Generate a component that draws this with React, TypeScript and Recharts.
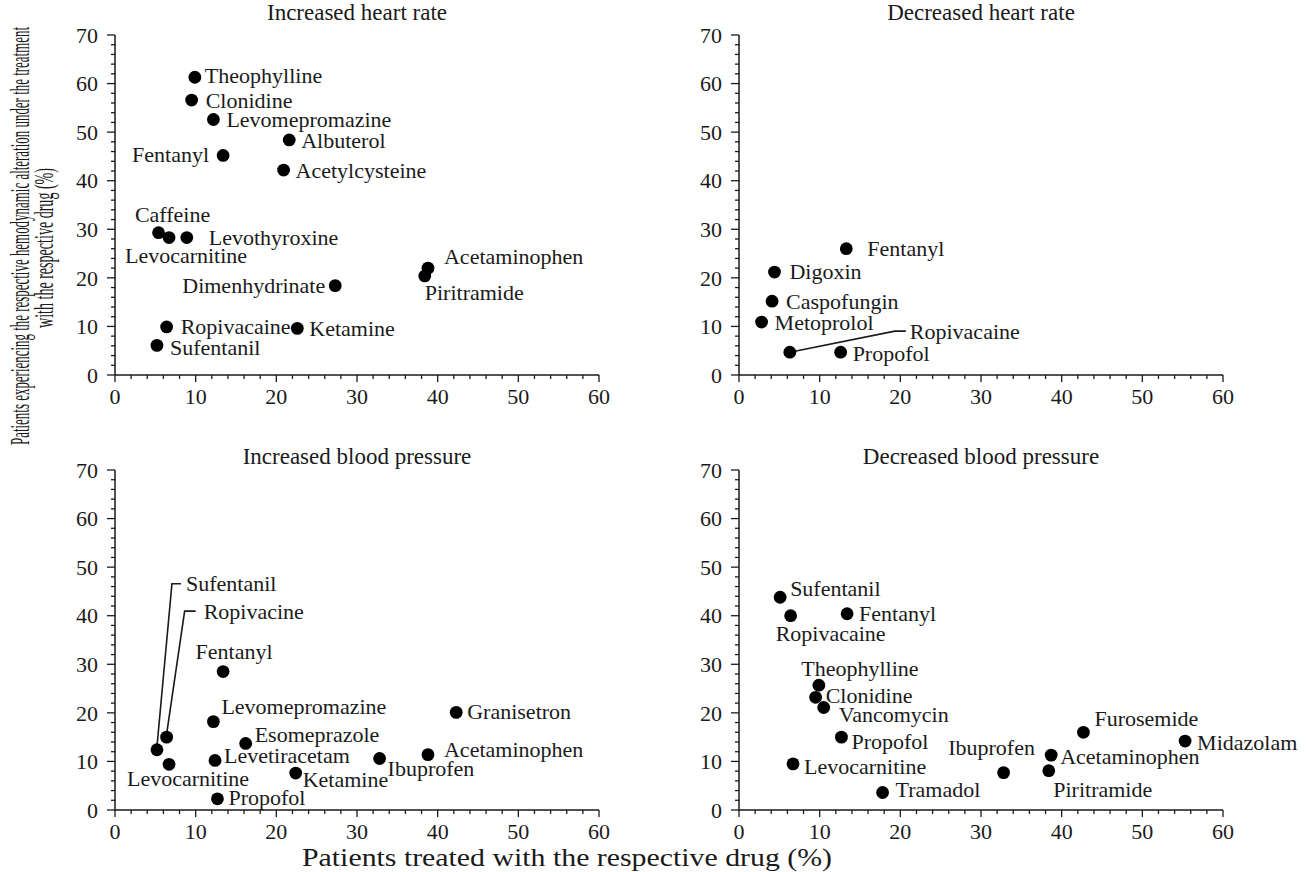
import React from 'react';
import { ScatterChart, Scatter, XAxis, YAxis } from 'recharts';

const FONT = '"Liberation Serif", "Times New Roman", Times, serif';
const INK = '#1a1a1a';

// ---- Data: Increased heart rate ----
const ihrDrugs = ['Theophylline', 'Clonidine', 'Levomepromazine', 'Albuterol', 'Fentanyl', 'Acetylcysteine', 'Caffeine', 'Levocarnitine', 'Levothyroxine', 'Acetaminophen', 'Piritramide', 'Dimenhydrinate', 'Ropivacaine', 'Ketamine', 'Sufentanil'];
const ihrTreated = [9.9, 9.5, 12.2, 21.6, 13.4, 20.9, 5.4, 6.7, 8.9, 38.8, 38.4, 27.3, 6.4, 22.6, 5.2];
const ihrAffected = [61.3, 56.6, 52.6, 48.4, 45.2, 42.2, 29.3, 28.3, 28.3, 22.0, 20.4, 18.4, 9.9, 9.6, 6.1];

// ---- Data: Decreased heart rate ----
const dhrDrugs = ['Fentanyl', 'Digoxin', 'Caspofungin', 'Metoprolol', 'Ropivacaine', 'Propofol'];
const dhrTreated = [13.3, 4.4, 4.1, 2.8, 6.3, 12.6];
const dhrAffected = [26.0, 21.2, 15.2, 10.9, 4.7, 4.7];

// ---- Data: Increased blood pressure ----
const ibpDrugs = ['Fentanyl', 'Levomepromazine', 'Granisetron', 'Esomeprazole', 'Ropivacine', 'Sufentanil', 'Levocarnitine', 'Levetiracetam', 'Ibuprofen', 'Acetaminophen', 'Ketamine', 'Propofol'];
const ibpTreated = [13.4, 12.2, 42.3, 16.2, 6.4, 5.2, 6.7, 12.4, 32.8, 38.8, 22.4, 12.7];
const ibpAffected = [28.5, 18.2, 20.1, 13.7, 15.0, 12.4, 9.4, 10.2, 10.6, 11.4, 7.6, 2.3];

// ---- Data: Decreased blood pressure ----
const dbpDrugs = ['Sufentanil', 'Ropivacaine', 'Fentanyl', 'Theophylline', 'Clonidine', 'Vancomycin', 'Propofol', 'Levocarnitine', 'Tramadol', 'Ibuprofen', 'Piritramide', 'Acetaminophen', 'Furosemide', 'Midazolam'];
const dbpTreated = [5.1, 6.4, 13.4, 9.9, 9.5, 10.5, 12.7, 6.7, 17.8, 32.8, 38.4, 38.7, 42.7, 55.3];
const dbpAffected = [43.8, 40.0, 40.4, 25.7, 23.2, 21.1, 15.0, 9.5, 3.6, 7.7, 8.1, 11.3, 16.0, 14.2];

// ---- Axis tick labels ----
const xTickLabels = [0, 10, 20, 30, 40, 50, 60];
const yTickLabels = [0, 10, 20, 30, 40, 50, 60, 70];
const minorStep = 2;

const panelTitles = ['Increased heart rate', 'Decreased heart rate', 'Increased blood pressure', 'Decreased blood pressure'];
const xAxisTitle = 'Patients treated with the respective drug (%)';
const yAxisTitle1 = 'Patients experiencing the respective hemodynamic alteration under the treatment';
const yAxisTitle2 = 'with the respective drug (%)';

const withMinor = (majors: number[]) => {
  const out: number[] = [];
  const max = majors[majors.length - 1];
  for (let v = majors[0]; v <= max; v += minorStep) out.push(v);
  return out;
};
const xTicks = withMinor(xTickLabels);
const yTicks = withMinor(yTickLabels);

const rows = (names: string[], xs: number[], ys: number[]) =>
  names.map((name, i) => ({ name, x: xs[i], y: ys[i] }));

// ---- Label placement (layout only, relative to each dot in px) ----
type Place = { dx: number; dy: number; anchor?: 'start' | 'middle' | 'end'; leader?: number[][] };

const ihrPlace: Record<string, Place> = {
  Theophylline: { dx: 10, dy: -2 },
  Clonidine: { dx: 14, dy: 0 },
  Levomepromazine: { dx: 13, dy: 0 },
  Albuterol: { dx: 12, dy: 0 },
  Fentanyl: { dx: -14, dy: -1, anchor: 'end' },
  Acetylcysteine: { dx: 12, dy: 0 },
  Caffeine: { dx: 14, dy: -18, anchor: 'middle' },
  Levocarnitine: { dx: 17, dy: 18, anchor: 'middle' },
  Levothyroxine: { dx: 22, dy: 0 },
  Acetaminophen: { dx: 16, dy: -12 },
  Piritramide: { dx: 0, dy: 16 },
  Dimenhydrinate: { dx: -10, dy: 0, anchor: 'end' },
  Ropivacaine: { dx: 14, dy: -1 },
  Ketamine: { dx: 12, dy: 0 },
  Sufentanil: { dx: 13, dy: 2 },
};

const dhrPlace: Record<string, Place> = {
  Fentanyl: { dx: 21, dy: 0 },
  Digoxin: { dx: 15, dy: -1 },
  Caspofungin: { dx: 14, dy: 0 },
  Metoprolol: { dx: 13, dy: 0 },
  Ropivacaine: { dx: 120, dy: -21, leader: [[0, 0], [105, -21], [116, -21]] },
  Propofol: { dx: 12, dy: 1 },
};

const ibpPlace: Record<string, Place> = {
  Fentanyl: { dx: 11, dy: -20, anchor: 'middle' },
  Levomepromazine: { dx: 8, dy: -15 },
  Granisetron: { dx: 11, dy: -1 },
  Esomeprazole: { dx: 9, dy: -9 },
  Ropivacine: { dx: 37, dy: -126, leader: [[0, -3], [18, -126], [29, -126]] },
  Sufentanil: { dx: 29, dy: -166, leader: [[0, -3], [15, -166], [24, -166]] },
  Levocarnitine: { dx: 19, dy: 14, anchor: 'middle' },
  Levetiracetam: { dx: 9, dy: -5 },
  Ibuprofen: { dx: 8, dy: 10 },
  Acetaminophen: { dx: 16, dy: -5 },
  Ketamine: { dx: 7, dy: 6 },
  Propofol: { dx: 11, dy: -2 },
};

const dbpPlace: Record<string, Place> = {
  Sufentanil: { dx: 10, dy: -9 },
  Ropivacaine: { dx: 40, dy: 18, anchor: 'middle' },
  Fentanyl: { dx: 12, dy: 0 },
  Theophylline: { dx: 41, dy: -17, anchor: 'middle' },
  Clonidine: { dx: 10, dy: -2 },
  Vancomycin: { dx: 15, dy: 7 },
  Propofol: { dx: 10, dy: 4 },
  Levocarnitine: { dx: 11, dy: 2 },
  Tramadol: { dx: 13, dy: -3 },
  Ibuprofen: { dx: -12, dy: -25, anchor: 'middle' },
  Piritramide: { dx: 54, dy: 19, anchor: 'middle' },
  Acetaminophen: { dx: 9, dy: 1 },
  Furosemide: { dx: 11, dy: -14 },
  Midazolam: { dx: 12, dy: 1 },
};

const makeShape = (place: Record<string, Place>) => (props: any) => {
  const { cx, cy, payload } = props;
  if (cx == null || cy == null) return <g />;
  const p = place[payload.name] || { dx: 10, dy: 0 };
  return (
    <g>
      {p.leader && (
        <polyline
          points={p.leader.map(([a, b]) => `${cx + a},${cy + b}`).join(' ')}
          fill="none"
          stroke={INK}
          strokeWidth={1.6}
        />
      )}
      <circle cx={cx} cy={cy} r={6.4} fill="#000" />
      <text
        x={cx + p.dx}
        y={cy + p.dy}
        dy="0.35em"
        textAnchor={p.anchor || 'start'}
        fontSize={22}
        fontFamily={FONT}
        fill={INK}
      >
        {payload.name}
      </text>
    </g>
  );
};

const XTick = (props: any) => {
  const { x, y, payload } = props;
  const v = payload.value;
  const major = xTickLabels.includes(v);
  return (
    <g>
      <line x1={x} x2={x} y1={y} y2={y + (major ? 7 : 4)} stroke={INK} strokeWidth={1.3} />
      {major && (
        <text x={x} y={y + 29} textAnchor="middle" fontSize={22} fontFamily={FONT} fill={INK}>
          {v}
        </text>
      )}
    </g>
  );
};

const YTick = (props: any) => {
  const { x, y, payload } = props;
  const v = payload.value;
  const major = yTickLabels.includes(v);
  return (
    <g>
      <line x1={x} x2={x - (major ? 8 : 4)} y1={y} y2={y} stroke={INK} strokeWidth={1.3} />
      {major && (
        <text x={x - 17} y={y} dy="0.35em" textAnchor="end" fontSize={22} fontFamily={FONT} fill={INK}>
          {v}
        </text>
      )}
    </g>
  );
};

type PanelProps = {
  data: { name: string; x: number; y: number }[];
  place: Record<string, Place>;
  width: number;
  height: number;
  right: number;
  bottom: number;
};

const Panel = ({ data, place, width, height, right, bottom }: PanelProps) => (
  <ScatterChart width={width} height={height} margin={{ top: 35, right, bottom, left: 65 }}>
    <XAxis
      type="number"
      dataKey="x"
      domain={[0, 60]}
      ticks={xTicks}
      interval={0}
      tick={<XTick />}
      tickLine={false}
      tickSize={0}
      tickMargin={0}
      height={30}
      axisLine={{ stroke: INK, strokeWidth: 1.5 }}
    />
    <YAxis
      type="number"
      dataKey="y"
      domain={[0, 70]}
      ticks={yTicks}
      interval={0}
      tick={<YTick />}
      tickLine={false}
      tickSize={0}
      tickMargin={0}
      width={50}
      axisLine={{ stroke: INK, strokeWidth: 1.5 }}
    />
    <Scatter data={data} shape={makeShape(place)} isAnimationActive={false} />
  </ScatterChart>
);

export default function App() {
  const abs = (left: number, top: number): React.CSSProperties => ({ position: 'absolute', left, top });
  return (
    <div style={{ position: 'absolute', left: 0, top: 0, width: 1307, height: 872, background: '#fff', overflow: 'hidden' }}>
      <div style={abs(0, 0)}>
        <Panel data={rows(ihrDrugs, ihrTreated, ihrAffected)} place={ihrPlace} width={624} height={435} right={25} bottom={30} />
      </div>
      <div style={abs(624, 0)}>
        <Panel data={rows(dhrDrugs, dhrTreated, dhrAffected)} place={dhrPlace} width={683} height={435} right={84} bottom={30} />
      </div>
      <div style={abs(0, 435)}>
        <Panel data={rows(ibpDrugs, ibpTreated, ibpAffected)} place={ibpPlace} width={624} height={437} right={25} bottom={32} />
      </div>
      <div style={abs(624, 435)}>
        <Panel data={rows(dbpDrugs, dbpTreated, dbpAffected)} place={dbpPlace} width={683} height={437} right={84} bottom={32} />
      </div>
      <svg width={1307} height={872} style={{ position: 'absolute', left: 0, top: 0, pointerEvents: 'none' }}>
        <g fontFamily={FONT} fill={INK} fontSize={23} textAnchor="middle">
          <text x={357} y={20}>{panelTitles[0]}</text>
          <text x={981} y={20}>{panelTitles[1]}</text>
          <text x={357} y={464}>{panelTitles[2]}</text>
          <text x={981} y={464}>{panelTitles[3]}</text>
          <text x={567} y={866} fontSize={25} textLength={530} lengthAdjust="spacingAndGlyphs">{xAxisTitle}</text>
          <text transform="translate(29,236) rotate(-90)" fontSize={27} textLength={418} lengthAdjust="spacingAndGlyphs">
            {yAxisTitle1}
          </text>
          <text transform="translate(53,248) rotate(-90)" fontSize={27} textLength={160} lengthAdjust="spacingAndGlyphs">
            {yAxisTitle2}
          </text>
        </g>
      </svg>
    </div>
  );
}
